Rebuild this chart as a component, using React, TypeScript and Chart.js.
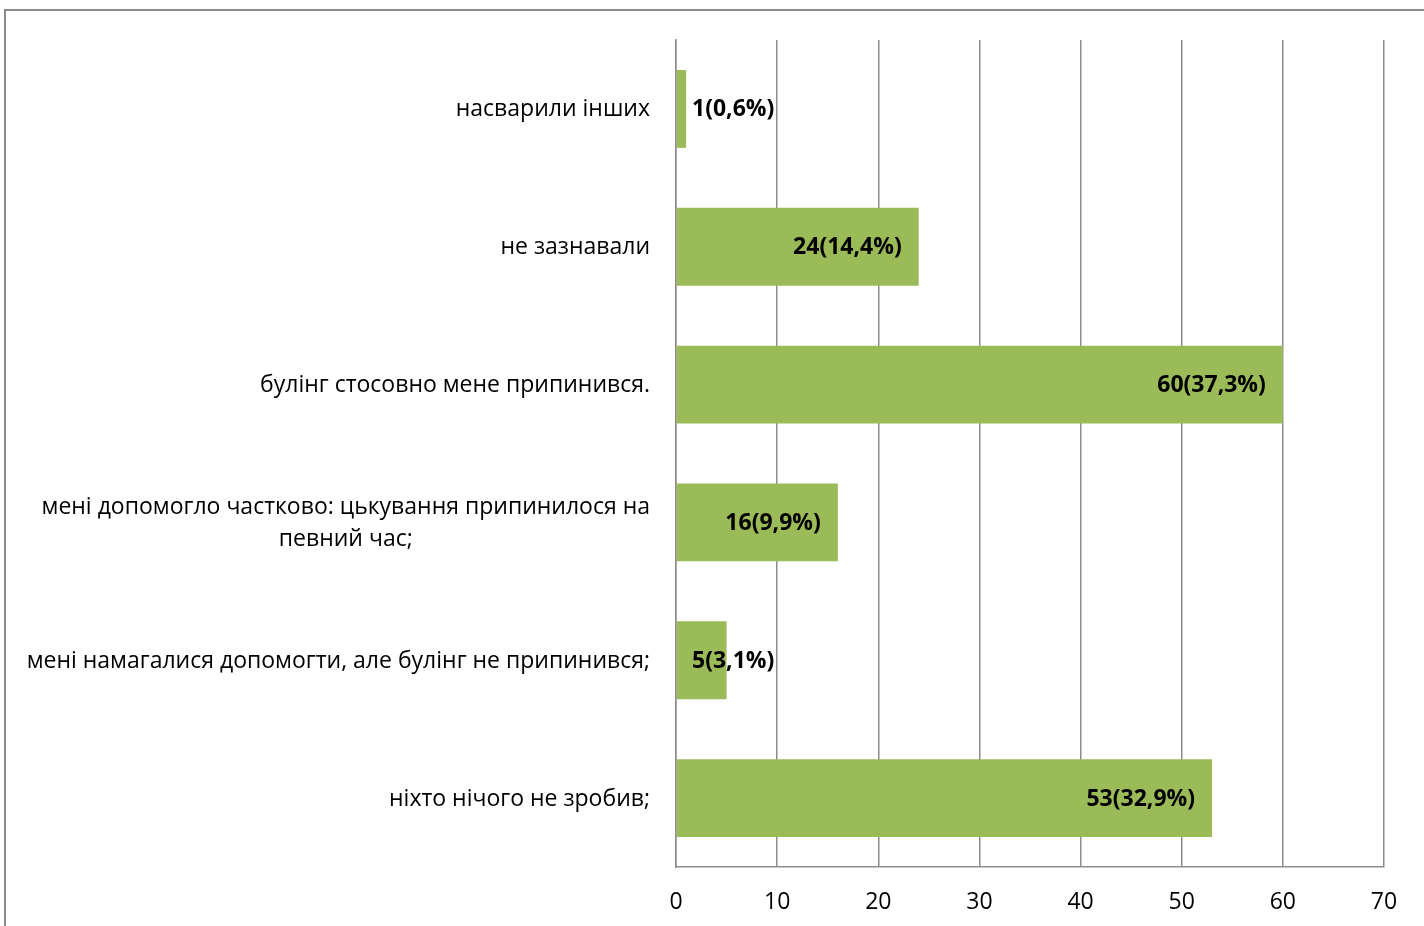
import React, { useEffect, useRef } from "react";
import { Chart, registerables } from "chart.js";

Chart.register(...registerables);

const categories: string[][] = [
  ["насварили інших"],
  ["не зазнавали"],
  ["булінг стосовно мене припинився."],
  ["мені допомогло частково: цькування припинилося на", "певний час;"],
  ["мені намагалися допомогти, але булінг не припинився;"],
  ["ніхто нічого не зробив;"],
];
const counts = [1, 24, 60, 16, 5, 53];
const percents = ["0,6", "14,4", "37,3", "9,9", "3,1", "32,9"];
const axisMin = 0;
const axisMax = 70;
const axisStep = 10;

const FONT = "'Open Sans', 'Noto Sans', sans-serif";
const FONT_SIZE = 23;
const GRID = "#8c8c8c";
const BAR = "#9bbb59";

const labelPlugin = {
  id: "customLabels",
  afterDatasetsDraw(chart: any) {
    const { ctx, chartArea } = chart;
    const yScale = chart.scales.y;
    const meta = chart.getDatasetMeta(0);
    ctx.save();
    ctx.fillStyle = "#000";
    ctx.textBaseline = "middle";
    // category labels
    ctx.font = `${FONT_SIZE}px ${FONT}`;
    const blockRight = chartArea.left - 26;
    const lineH = 32;
    categories.forEach((lines, i) => {
      const yc = yScale.getPixelForValue(i) + 1;
      const widths = lines.map((l) => ctx.measureText(l).width);
      const maxW = Math.max(...widths);
      const cx = blockRight - maxW / 2;
      ctx.textAlign = "center";
      lines.forEach((l, j) => {
        const y = yc + (j - (lines.length - 1) / 2) * lineH;
        ctx.fillText(l, cx, y);
      });
    });
    // data labels
    ctx.font = `bold ${FONT_SIZE}px ${FONT}`;
    meta.data.forEach((bar: any, i: number) => {
      const text = `${counts[i]}(${percents[i]}%)`;
      const w = ctx.measureText(text).width;
      const xr = bar.x - 17;
      let xl = xr - w;
      if (xl < chartArea.left + 16) {
        xl = chartArea.left + 16;
      }
      ctx.textAlign = "left";
      ctx.fillText(text, xl, bar.y + 1);
    });
    ctx.restore();
  },
};

export default function App() {
  const ref = useRef<HTMLCanvasElement | null>(null);
  useEffect(() => {
    if (!ref.current) return;
    const chart = new Chart(ref.current, {
      type: "bar",
      data: {
        labels: categories.map((c) => c.join(" ")),
        datasets: [
          {
            data: counts,
            backgroundColor: BAR,
            borderWidth: 0,
            barPercentage: 0.565,
            categoryPercentage: 1,
          },
        ],
      },
      options: {
        indexAxis: "y",
        animation: false,
        responsive: true,
        maintainAspectRatio: false,
        layout: { padding: { left: 676, right: 40, top: 40, bottom: 0 } },
        plugins: {
          legend: { display: false },
          tooltip: { enabled: false },
          title: { display: false },
        },
        scales: {
          x: {
            min: axisMin,
            max: axisMax,
            afterFit: (scale: any) => {
              scale.height = 59;
            },
            ticks: {
              stepSize: axisStep,
              color: "#000",
              font: { family: FONT, size: FONT_SIZE },
              padding: 22,
              maxRotation: 0,
            },
            grid: { color: GRID, lineWidth: 1.5, drawTicks: false },
            border: { display: true, color: GRID, width: 1.5 },
          },
          y: {
            ticks: { display: false },
            grid: { display: false, drawTicks: false },
            border: { display: true, color: GRID, width: 1.5 },
          },
        },
      },
      plugins: [labelPlugin],
    });
    return () => chart.destroy();
  }, []);

  return (
    <div
      style={{
        position: "fixed",
        left: 0,
        top: 0,
        width: 1424,
        height: 926,
        overflow: "hidden",
        background: "#fff",
      }}
    >
      <div
        style={{
          position: "absolute",
          left: 4,
          top: 9,
          width: 1500,
          height: 1000,
          border: "2px solid #8c8c8c",
          boxSizing: "border-box",
        }}
      />
      <div style={{ position: "absolute", left: 0, top: 0, width: 1424, height: 926 }}>
        <canvas ref={ref} />
      </div>
    </div>
  );
}
